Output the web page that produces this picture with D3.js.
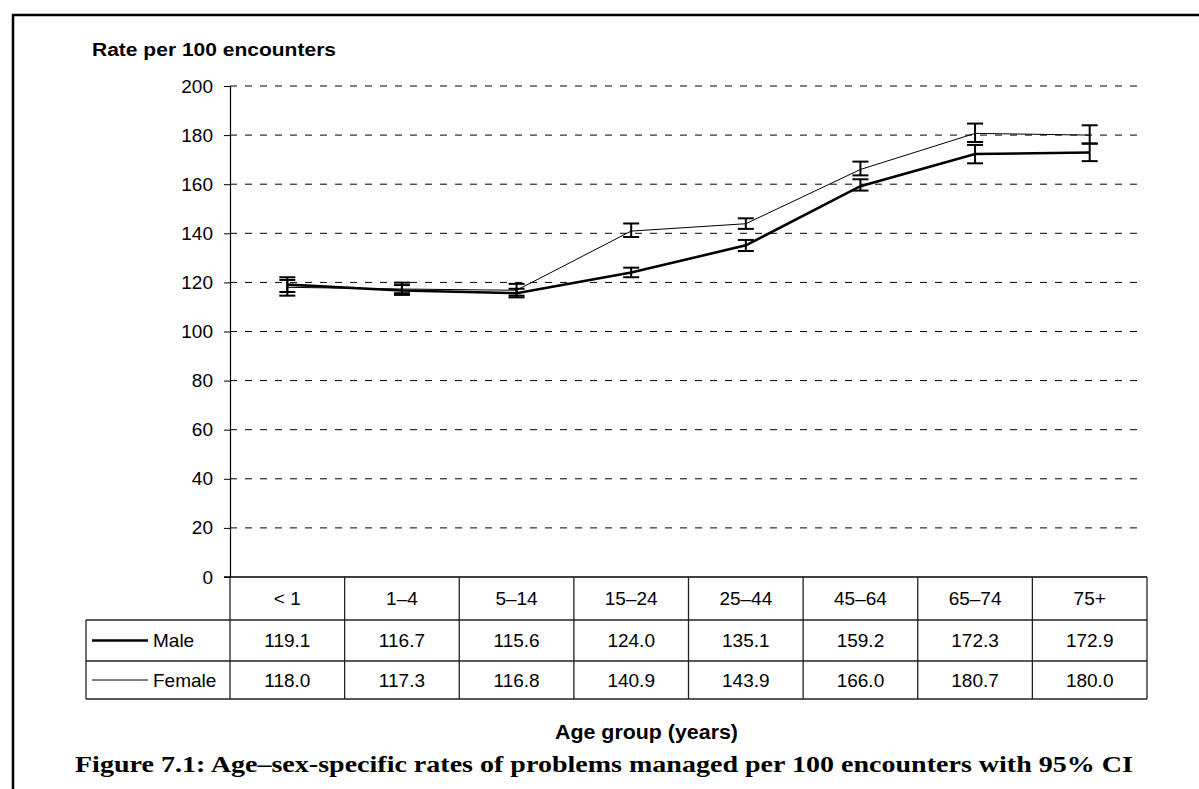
<!DOCTYPE html>
<html>
<head>
<meta charset="utf-8">
<script src="https://cdn.jsdelivr.net/npm/d3@7"></script>
<style>
  body { margin: 0; background: #fff; }
  text { font-family: "Liberation Sans", Arial, sans-serif; fill: #000; }
</style>
</head>
<body>
<div id="chart"></div>
<script>
// data
const ageGroups = ["< 1", "1–4", "5–14", "15–24", "25–44", "45–64", "65–74", "75+"];
const maleRate = [119.1, 116.7, 115.6, 124.0, 135.1, 159.2, 172.3, 172.9];
const femaleRate = [118.0, 117.3, 116.8, 140.9, 143.9, 166.0, 180.7, 180.0];
// 95% CI
const maleLow = [116.1, 114.9, 113.9, 122.1, 132.8, 157.4, 168.5, 169.4];
const maleHigh = [122.1, 118.9, 117.4, 126.0, 137.3, 162.0, 176.0, 176.5];
const femaleLow = [114.6, 115.6, 114.6, 138.5, 141.8, 163.6, 177.2, 176.6];
const femaleHigh = [121.0, 119.9, 119.4, 144.0, 146.1, 169.2, 184.7, 184.0];
const yTicks = [0, 20, 40, 60, 80, 100, 120, 140, 160, 180, 200];

const W = 1199, H = 789;
const svg = d3.select("#chart").append("svg")
  .attr("width", W).attr("height", H);

// outer frame (only top and left edges are in view)
svg.append("rect")
  .attr("x", 13).attr("y", 15).attr("width", 1300).attr("height", 900)
  .attr("fill", "none").attr("stroke", "#000").attr("stroke-width", 2.5);

const plotLeft = 230, plotRight = 1147, plotTop = 86, plotBottom = 577;

const x = d3.scaleBand().domain(ageGroups).range([plotLeft, plotRight]);
const y = d3.scaleLinear().domain([0, 200]).range([plotBottom, plotTop]);

// gridlines
svg.append("g")
  .selectAll("line")
  .data(yTicks.filter(d => d > 0))
  .join("line")
    .attr("x1", plotLeft).attr("x2", plotRight - 2)
    .attr("y1", d => y(d)).attr("y2", d => y(d))
    .attr("stroke", "#000").attr("stroke-width", 1)
    .attr("stroke-dasharray", "7,8");

// y axis
const yAxis = svg.append("g")
  .attr("transform", `translate(${plotLeft},0)`)
  .call(d3.axisLeft(y).tickValues(yTicks).tickSize(6).tickPadding(11).tickFormat(d3.format("d")));
yAxis.select(".domain").attr("stroke", "#000").attr("stroke-width", 1.2);
yAxis.selectAll(".tick line").attr("stroke", "#000");
yAxis.selectAll("text")
  .style("font-family", "'Liberation Sans', Arial, sans-serif")
  .style("font-size", "19px").attr("fill", "#000");

svg.append("text")
  .attr("x", 92).attr("y", 56)
  .attr("textLength", 244).attr("lengthAdjust", "spacingAndGlyphs")
  .style("font-size", "18px").style("font-weight", "bold")
  .text("Rate per 100 encounters");

// data table under the plot
const rowTop = plotBottom, row1 = 620, row2 = 661, row3 = 699, legendLeft = 86;
const tableG = svg.append("g").attr("stroke", "#222").attr("stroke-width", 1.3);
// x axis / 0 line
tableG.append("line").attr("x1", plotLeft - 6).attr("x2", plotRight)
  .attr("y1", rowTop).attr("y2", rowTop).attr("stroke", "#000").attr("stroke-width", 1.5);
[row1, row2, row3].forEach(r => {
  tableG.append("line").attr("x1", legendLeft).attr("x2", plotRight).attr("y1", r).attr("y2", r);
});
tableG.append("line").attr("x1", legendLeft).attr("x2", legendLeft).attr("y1", row1).attr("y2", row3);
tableG.selectAll(".vcol")
  .data(ageGroups.map(g => x(g)).concat([plotRight]))
  .join("line")
    .attr("x1", d => d).attr("x2", d => d)
    .attr("y1", rowTop).attr("y2", row3);

const cellText = (vals, yy, fmt) => svg.append("g")
  .selectAll("text")
  .data(vals)
  .join("text")
    .attr("x", (d, i) => x(ageGroups[i]) + x.bandwidth() / 2)
    .attr("y", yy)
    .attr("text-anchor", "middle")
    .attr("dominant-baseline", "central")
    .style("font-size", "19px")
    .text(fmt);

cellText(ageGroups, (rowTop + row1) / 2, d => d);
cellText(maleRate, (row1 + row2) / 2, d => d.toFixed(1));
cellText(femaleRate, (row2 + row3) / 2, d => d.toFixed(1));

// legend keys in the table
const series = [
  { name: "Male", rate: maleRate, lo: maleLow, hi: maleHigh, width: 2.6, rowY: (row1 + row2) / 2 },
  { name: "Female", rate: femaleRate, lo: femaleLow, hi: femaleHigh, width: 1, rowY: (row2 + row3) / 2 }
];
series.forEach(s => {
  svg.append("line").attr("x1", 92).attr("x2", 148)
    .attr("y1", s.rowY).attr("y2", s.rowY)
    .attr("stroke", "#000").attr("stroke-width", s.width);
  svg.append("text").attr("x", 153).attr("y", s.rowY)
    .attr("dominant-baseline", "central")
    .style("font-size", "19px").text(s.name);
});

// lines and error bars
const cx = i => x(ageGroups[i]) + x.bandwidth() / 2;
const line = d3.line().x((d, i) => cx(i)).y(d => y(d));
const capW = 8;
series.slice().reverse().forEach(s => {
  svg.append("path")
    .attr("d", line(s.rate))
    .attr("fill", "none").attr("stroke", "#000").attr("stroke-width", s.width);
  const eb = svg.append("g").attr("stroke", "#000").attr("stroke-width", 2);
  eb.selectAll(".v").data(s.rate).join("line")
    .attr("x1", (d, i) => cx(i)).attr("x2", (d, i) => cx(i))
    .attr("y1", (d, i) => y(s.lo[i])).attr("y2", (d, i) => y(s.hi[i]));
  [s.lo, s.hi].forEach(arr => {
    eb.append("g").selectAll("line").data(arr).join("line")
      .attr("x1", (d, i) => cx(i) - capW).attr("x2", (d, i) => cx(i) + capW)
      .attr("y1", d => y(d)).attr("y2", d => y(d));
  });
});

// axis title and caption
svg.append("text")
  .attr("x", 555).attr("y", 739)
  .attr("textLength", 183).attr("lengthAdjust", "spacingAndGlyphs")
  .style("font-size", "20px").style("font-weight", "bold")
  .text("Age group (years)");

svg.append("text")
  .attr("x", 75).attr("y", 772)
  .attr("textLength", 1058).attr("lengthAdjust", "spacingAndGlyphs")
  .style("font-family", "'Liberation Serif', 'Times New Roman', serif")
  .style("font-size", "23px").style("font-weight", "bold")
  .text("Figure 7.1: Age–sex-specific rates of problems managed per 100 encounters with 95% CI");
</script>
</body>
</html>
